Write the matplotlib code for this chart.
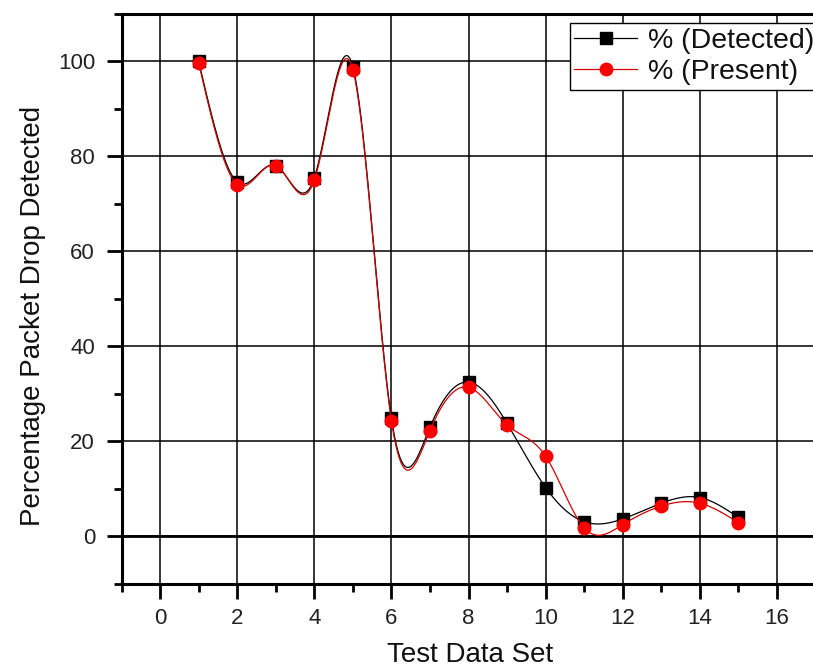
import numpy as np
import matplotlib
matplotlib.use("Agg")
import matplotlib.pyplot as plt
from matplotlib.ticker import MultipleLocator

plt.rcParams['font.family'] = ['Liberation Sans', 'DejaVu Sans']

# ---- data ----
test_sets = [1, 2, 3, 4, 5, 6, 7, 8, 9, 10, 11, 12, 13, 14, 15]
detected = [100, 74.5, 78, 75.4, 98.8, 24.8, 22.9, 32.4, 23.7, 10.2, 3.0, 3.6, 6.9, 8.1, 3.9]
present = [99.6, 74.0, 78.0, 74.9, 98.2, 24.3, 22.2, 31.3, 23.4, 16.8, 1.7, 2.4, 6.3, 6.9, 2.8]
series_names = ['% (Detected)', '% (Present)']
x_ticks = [0, 2, 4, 6, 8, 10, 12, 14, 16]
y_ticks = [0, 20, 40, 60, 80, 100]


def natural_spline(x, y, xs):
    x = np.asarray(x, float); y = np.asarray(y, float)
    n = len(x); h = np.diff(x)
    A = np.zeros((n, n)); rhs = np.zeros(n)
    A[0, 0] = 1; A[-1, -1] = 1
    for i in range(1, n - 1):
        A[i, i - 1] = h[i - 1]; A[i, i] = 2 * (h[i - 1] + h[i]); A[i, i + 1] = h[i]
        rhs[i] = 3 * ((y[i + 1] - y[i]) / h[i] - (y[i] - y[i - 1]) / h[i - 1])
    c = np.linalg.solve(A, rhs)
    b = (y[1:] - y[:-1]) / h - h * (2 * c[:-1] + c[1:]) / 3
    d = (c[1:] - c[:-1]) / (3 * h)
    idx = np.clip(np.searchsorted(x, xs) - 1, 0, n - 2)
    dx = xs - x[idx]
    return y[idx] + b[idx] * dx + c[idx] * dx ** 2 + d[idx] * dx ** 3


W, H = 813, 669
x0, x1 = 121.5, 815.5
y0, y1 = 583.5, 13.5
fig = plt.figure(figsize=(W / 100, H / 100), dpi=100)
ax = fig.add_axes([x0 / W, 1 - y0 / H, (x1 - x0) / W, (y0 - y1) / H])

ax.set_xlim(-1, 17)
ax.set_ylim(-10, 110)

# grid
ax.set_xticks(x_ticks)
ax.set_yticks(y_ticks)
ax.xaxis.set_minor_locator(MultipleLocator(1))
ax.yaxis.set_minor_locator(MultipleLocator(10))
ax.grid(True, which='major', color='black', linewidth=1.1, zorder=0)
ax.axhline(0, color='black', linewidth=2.0, zorder=1)

xs = np.linspace(test_sets[0], test_sets[-1], 600)
ax.plot(xs, natural_spline(test_sets, detected, xs), color='black', lw=0.9, zorder=3)
ax.plot(test_sets, detected, linestyle='none', marker='s', color='black', ms=8.5, zorder=4)
ax.plot(xs, natural_spline(test_sets, present, xs), color='#d40000', lw=0.9, zorder=5)
ax.plot(test_sets, present, linestyle='none', marker='o', color='#ff0000', ms=9, zorder=6)

# legend proxies
h1, = ax.plot([], [], color='black', lw=0.9, marker='s', ms=8.5)
h2, = ax.plot([], [], color='#d40000', lw=0.9, marker='o', ms=9, mfc='#ff0000', mec='#ff0000')
leg = fig.legend([h1, h2], series_names, loc='upper left',
                 bbox_to_anchor=(570 / W, 1 - 23.5 / H), bbox_transform=fig.transFigure,
                 fontsize=20.5, frameon=True, fancybox=False, framealpha=1,
                 edgecolor='black', handlelength=2.2, handletextpad=0.38,
                 borderpad=0.15, labelspacing=0.2, borderaxespad=0)
leg.get_frame().set_linewidth(1.0)
for t in leg.get_texts():
    t.set_color('#111111')

for s in ['left', 'bottom', 'top']:
    ax.spines[s].set_linewidth(2.2)
    ax.spines[s].set_color('black')
ax.spines['right'].set_visible(False)

ax.tick_params(which='major', direction='out', length=10.5, width=2, color='black',
               labelsize=16, labelcolor='#222222', pad=7)
ax.tick_params(which='minor', direction='out', length=5.5, width=2, color='black')
ax.tick_params(axis='y', which='major', pad=8.5)

ax.set_xlabel('Test Data Set', fontsize=20, color='#111111')
ax.set_ylabel('Percentage Packet Drop Detected', fontsize=20, color='#111111', va='center')
ax.xaxis.set_label_coords((470 - x0) / (x1 - x0), (y0 - 655) / (y0 - y1))
ax.xaxis.label.set_va('center')
ax.yaxis.set_label_coords((33 - x0) / (x1 - x0), (y0 - 316) / (y0 - y1))

fig.savefig('out.png', dpi=100)
